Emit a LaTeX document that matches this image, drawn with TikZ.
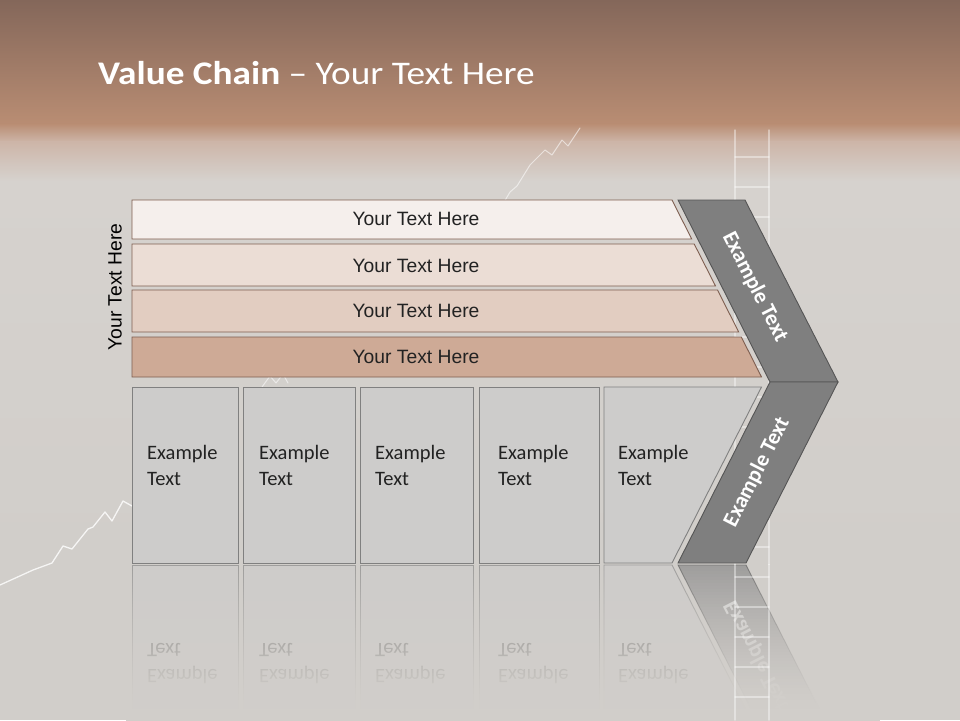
\documentclass[tikz,border=0pt]{standalone}
\usepackage{fontspec}
\usepackage{graphicx}
\setmainfont{Carlito}
\newfontfamily\arialf{Liberation Sans}
\definecolor{bgA}{HTML}{84675A}
\definecolor{bgB}{HTML}{B98D73}
\definecolor{bgC}{HTML}{CDB5A8}
\definecolor{bgD}{HTML}{D6D2CE}
\definecolor{bgE}{HTML}{D1CECA}
\definecolor{barA}{HTML}{F5EFEC}
\definecolor{barB}{HTML}{EBDDD5}
\definecolor{barC}{HTML}{E2CDC1}
\definecolor{barD}{HTML}{CEAA96}
\definecolor{barLine}{HTML}{7E5E50}
\definecolor{boxFill}{HTML}{CDCCCB}
\definecolor{boxLine}{HTML}{808080}
\definecolor{chevFill}{HTML}{7F7F7F}
\definecolor{chevLine}{HTML}{555555}
\definecolor{txtDark}{HTML}{222222}
\tikzset{
  barshape/.style={draw=barLine, line width=0.9pt},
  boxshape/.style={draw=boxLine, fill=boxFill, line width=0.9pt},
  chevshape/.style={draw=chevLine, fill=chevFill, line width=0.9pt},
  bartext/.style={font=\arialf\fontsize{19.3}{23}\selectfont, text=txtDark, inner sep=0pt},
  boxtext/.style={font=\fontsize{20.5}{24}\selectfont, text=txtDark, anchor=base west, inner sep=0pt},
  chevtext/.style={font=\bfseries\fontsize{22}{26}\selectfont, text=white, inner sep=0pt},
  chalk/.style={draw=white, line width=1.3pt, line join=round, line cap=round},
}
\newcommand\lowerpart[1]{%
  \draw[boxshape] (132,387) rectangle (238,563);
  \draw[boxshape] (243,387) rectangle (355,563);
  \draw[boxshape] (360,387) rectangle (473,563);
  \draw[boxshape] (479,387) rectangle (599,563);
  \draw[boxshape] (604,387) -- (761.5,387) -- (672,563) -- (604,563) -- cycle;
  \node[boxtext] (#1e1) at (147,459) {Example};
  \node[boxtext] (#1x1) at (147,485) {Text};
  \node[boxtext] (#1e2) at (259,459) {Example};
  \node[boxtext] (#1x2) at (259,485) {Text};
  \node[boxtext] (#1e3) at (375,459) {Example};
  \node[boxtext] (#1x3) at (375,485) {Text};
  \node[boxtext] (#1e4) at (498,459) {Example};
  \node[boxtext] (#1x4) at (498,485) {Text};
  \node[boxtext] (#1e5) at (618,459) {Example};
  \node[boxtext] (#1x5) at (618,485) {Text};
  \draw[chevshape] (770,382) -- (838,382) -- (746,563) -- (678,563) -- cycle;
  \node[chevtext, rotate=63] (#1ct2) at (757,472) {Example Text};
}
\newcommand\ladder[2]{%
  \begin{scope}[opacity=0.4]
  \clip (700,#1) rectangle (800,#2);
  \draw[chalk, line width=1.5pt] (735,130) -- (735,720);
  \draw[chalk, line width=1.5pt] (769,130) -- (769,720);
  \foreach \r in {157,187,...,720} \draw[chalk, line width=1.5pt] (735,\r) -- (769,\r);
  \end{scope}
}
\begin{document}
\begin{tikzpicture}[x=1pt,y=-1pt]
\useasboundingbox (0,0) rectangle (960,720);
% background
\fill[bgE] (0,0) rectangle (960,720);
\shade[top color=bgD, bottom color=bgE] (0,180) rectangle (960,560);
\shade[top color=bgA, bottom color=bgB] (0,0) rectangle (960,124);
\shade[top color=bgB, bottom color=bgC] (0,123.5) rectangle (960,142);
\shade[top color=bgC, bottom color=bgD] (0,141.5) rectangle (960,181);
% chalk marks
\begin{scope}[opacity=0.8]
\draw[chalk] (0,585) -- (33,570) -- (52,563) -- (63,546) -- (72,549) -- (88,529) -- (93,527) -- (105,512) -- (112,521) -- (123,501) -- (132,506);
\end{scope}
\begin{scope}[opacity=0.55]
\draw[chalk, line width=1pt] (497,214) -- (510,192) -- (517,186) -- (530,165) -- (545,150) -- (552,155) -- (562,140) -- (568,146) -- (580,128);
\draw[chalk, line width=1pt] (262,387) -- (270,376) -- (276,383) -- (283,374) -- (288,383);
\end{scope}
\ladder{128}{564}
% title
\node[anchor=base west, inner sep=0pt, text=white, font=\fontsize{33}{38}\selectfont] (title) at (98,84) {\scalebox{1.13}[1]{\textbf{Value Chain} – Your Text Here}};
% side label
\node[bartext, text=black, rotate=90] (side) at (115,287) {Your Text Here};
% bars
\draw[barshape, fill=barA] (132,200) -- (672,200) -- (691.7,239) -- (132,239) -- cycle;
\draw[barshape, fill=barB] (132,244) -- (694.2,244) -- (715.5,286) -- (132,286) -- cycle;
\draw[barshape, fill=barC] (132,290) -- (717.5,290) -- (738.7,332) -- (132,332) -- cycle;
\draw[barshape, fill=barD] (132,337) -- (741.3,337) -- (761.5,377) -- (132,377) -- cycle;
\node[bartext] (bt1) at (416,219) {Your Text Here};
\node[bartext] (bt2) at (416,266) {Your Text Here};
\node[bartext] (bt3) at (416,311) {Your Text Here};
\node[bartext] (bt4) at (416,357) {Your Text Here};
% chevron upper arm
\draw[chevshape] (678,200) -- (745,200) -- (838,382) -- (770,382) -- cycle;
\node[chevtext, rotate=-63] (ct1) at (755,287) {Example Text};
% lower part
\lowerpart{m}
% reflection
\begin{scope}[opacity=0.6]
\begin{scope}[yshift=-1128pt, yscale=-1, transform shape]
\lowerpart{r}
\end{scope}
\end{scope}
% fade the reflection into the background
\foreach \i in {0,...,52} {
  \pgfmathsetmacro\tt{min(1,\i*3/145)}
  \pgfmathsetmacro\oo{1-(1-\tt)*sqrt(1-\tt)}
  \fill[bgE, opacity=\oo] (126,565+3*\i) rectangle (880,568.3+3*\i);
}
\ladder{564}{720}
\end{tikzpicture}
\end{document}
